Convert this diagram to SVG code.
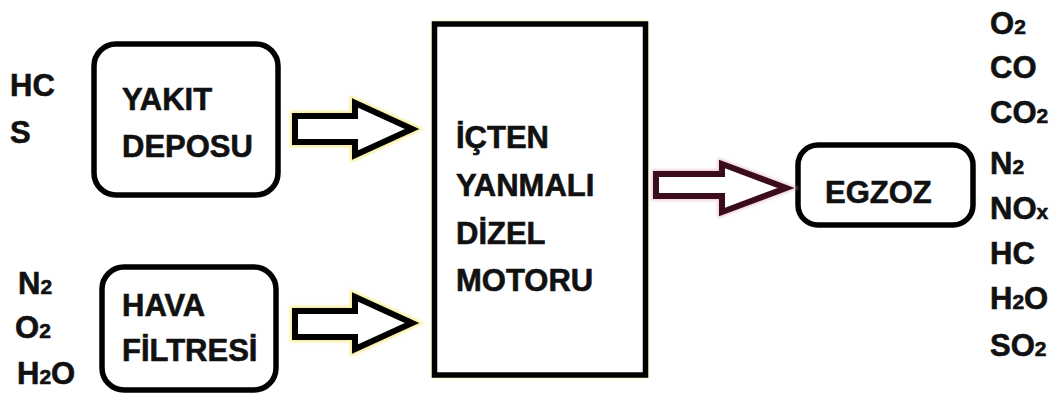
<svg xmlns="http://www.w3.org/2000/svg" width="1064" height="396" viewBox="0 0 1064 396">
<defs>
<style>
text{font-family:"Liberation Sans",Arial,sans-serif;font-weight:bold;font-size:31px;fill:#111;stroke:#111;stroke-width:0.6}
.sub{font-size:21px}
.box{fill:#fff;stroke:#000;stroke-width:5.5}
.glowY{fill:none;stroke:#f2e46a;stroke-width:10;stroke-linejoin:miter;opacity:0.7}
.glowP{fill:none;stroke:#e8b8c6;stroke-width:9;stroke-linejoin:miter;opacity:0.7}
.arrK{fill:#fff;stroke:#000;stroke-width:6;stroke-linejoin:miter}
.arrM{fill:#fff;stroke:#3a0c1c;stroke-width:6;stroke-linejoin:miter}
</style>
<filter id="blur" x="-20%" y="-20%" width="140%" height="140%"><feGaussianBlur stdDeviation="1.5"/></filter>
</defs>
<rect width="1064" height="396" fill="#fff"/>
<g id="inputs-yakit">
<text x="10" y="96">HC</text>
<text x="10" y="143">S</text>
</g>
<g id="inputs-hava">
<text x="18" y="294">N<tspan class="sub">2</tspan></text>
<text x="15" y="338">O<tspan class="sub">2</tspan></text>
<text x="17" y="384">H<tspan class="sub">2</tspan>O</text>
</g>
<g id="yakit-deposu">
<rect class="box" x="94" y="44" width="184" height="151" rx="22"/>
<text x="122" y="110">YAKIT</text>
<text x="122" y="157">DEPOSU</text>
</g>
<g id="hava-filtresi">
<rect class="box" x="102" y="267" width="174" height="123" rx="22"/>
<text x="122" y="316">HAVA</text>
<text x="122" y="361">FİLTRESİ</text>
</g>
<g id="motor">
<rect x="434.5" y="24" width="211" height="351" fill="#fff" stroke="#f2e46a" stroke-width="7" opacity="0.4" filter="url(#blur)"/>
<rect class="box" x="434.5" y="24" width="211" height="351"/>
<text x="456" y="148">İÇTEN</text>
<text x="456" y="196">YANMALI</text>
<text x="456" y="244">DİZEL</text>
<text x="456" y="291">MOTORU</text>
</g>
<g id="egzoz">
<rect class="box" x="798" y="145" width="175" height="80" rx="20"/>
<text x="825" y="203">EGZOZ</text>
</g>
<g id="outputs">
<text x="990" y="34">O<tspan class="sub">2</tspan></text>
<text x="990" y="78">CO</text>
<text x="990" y="123">CO<tspan class="sub">2</tspan></text>
<text x="990" y="174">N<tspan class="sub">2</tspan></text>
<text x="990" y="219">NO<tspan class="sub">x</tspan></text>
<text x="990" y="264">HC</text>
<text x="990" y="309">H<tspan class="sub">2</tspan>O</text>
<text x="990" y="356">SO<tspan class="sub">2</tspan></text>
</g>
<g id="connectors">
<polygon class="glowY" filter="url(#blur)" points="295,116 355,116 355,103 412,129 355,155 355,142 295,142"/>
<polygon class="arrK" points="295,116 355,116 355,103 412,129 355,155 355,142 295,142"/>
<polygon class="glowY" filter="url(#blur)" points="295,311 355,311 355,297 412,323 355,349 355,337 295,337"/>
<polygon class="arrK" points="295,311 355,311 355,297 412,323 355,349 355,337 295,337"/>
<polygon class="glowP" filter="url(#blur)" points="656,174 722,174 722,164 786,188 722,212 722,196 656,196"/>
<polygon class="arrM" points="656,174 722,174 722,164 786,188 722,212 722,196 656,196"/>
</g>
</svg>
